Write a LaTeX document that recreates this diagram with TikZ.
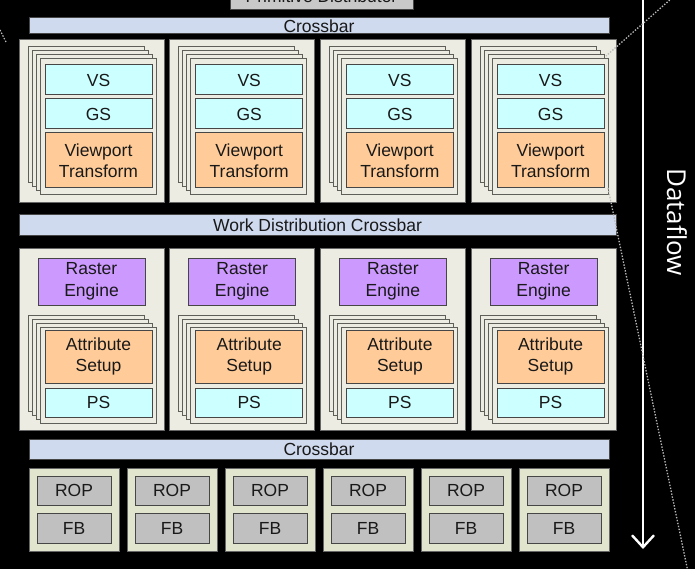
\documentclass[tikz,border=0pt]{standalone}
\usepackage{fontspec}
\setmainfont{Liberation Sans}
\newfontfamily\flowfont{Open Sans}
\usepackage{tikz}
\usetikzlibrary{calc}
\usetikzlibrary{arrows.meta}
\tikzset{>=stealth}

\definecolor{barblue}{RGB}{207,218,238}
\definecolor{gpcfill}{RGB}{236,236,226}
\definecolor{ropfill}{RGB}{225,229,205}
\definecolor{shadercyan}{RGB}{204,255,255}
\definecolor{fixpeach}{RGB}{255,204,153}
\definecolor{rasterpurple}{RGB}{204,153,255}
\definecolor{memgray}{RGB}{192,192,192}
\definecolor{distgray}{RGB}{200,200,200}
\definecolor{boxedge}{RGB}{70,70,70}
\definecolor{frameedge}{RGB}{95,95,90}
\definecolor{inktext}{RGB}{25,25,25}
\definecolor{zoomdots}{RGB}{185,185,185}

\tikzset{
	box/.style={draw=boxedge, line width=1pt, inner sep=0pt, text=inktext, align=center,
		font=\fontsize{17.5}{21.5}\selectfont},
	xbar/.style={box, fill=barblue},
	gpc/.style={box, fill=gpcfill, draw=black!60, minimum width=145pt},
	stackframe/.style={box, fill=gpcfill, draw=frameedge, minimum width=116pt},
	shader/.style={box, fill=shadercyan, minimum width=107pt, minimum height=30pt},
	fixedunit/.style={box, fill=fixpeach, minimum width=107pt},
	raster/.style={box, fill=rasterpurple, minimum width=107pt, minimum height=47pt},
	ropbox/.style={box, fill=ropfill, draw=black!60, minimum width=90pt, minimum height=83pt},
	memunit/.style={box, fill=memgray, minimum width=74pt, minimum height=29pt},
	zoomline/.style={draw=zoomdots, line width=1.3pt, dash pattern=on 1.4pt off 1.6pt}
}

\begin{document}
\begin{tikzpicture}[x=1pt,y=-1pt]
				\useasboundingbox (0,0) rectangle (695,569);
				\fill[black] (0,0) rectangle (695,569);
				\clip (0,0) rectangle (695,569);

				% top of the pipeline
				\draw (321.5,-4) node (dist) [box, fill=distgray, minimum width=183pt, minimum height=28pt] {Primitive Distributor};
				\draw (319,26) node (xbar1) [xbar, minimum width=580pt, minimum height=16pt] {Crossbar};

				% geometry stage
				\foreach \i [evaluate=\i as \xl using 19+150.7*(\i-1)] in {1,...,4} {
					\draw (\xl+72.5,121.5) node (geo\i) [gpc, minimum height=163pt] {};
					\foreach \k in {0,...,3}
						\draw (\xl+67+4*\k,115+4*\k) node (gfr\i\k) [stackframe, minimum height=136pt] {};
					\draw (\xl+79.5,80) node (vs\i) [shader] {VS};
					\draw (\xl+79.5,114) node (gs\i) [shader] {GS};
					\draw (\xl+79.5,160.5) node (vp\i) [fixedunit, minimum height=55pt] {Viewport\\Transform};
				}

				\draw (317.5,225) node (xbar2) [xbar, minimum width=597pt, minimum height=20pt] {Work Distribution Crossbar};

				% raster stage
				\foreach \i [evaluate=\i as \xl using 19+150.7*(\i-1)] in {1,...,4} {
					\draw (\xl+72.5,339) node (ras\i) [gpc, minimum height=182pt] {};
					\draw (\xl+72.5,281.5) node (re\i) [raster] {Raster\\Engine};
					\foreach \k in {0,...,3}
						\draw (\xl+67+4*\k,363+4*\k) node (rfr\i\k) [stackframe, minimum height=96pt] {};
					\draw (\xl+79.5,356.5) node (as\i) [fixedunit, minimum height=53pt] {Attribute\\Setup};
					\draw (\xl+79.5,402.5) node (ps\i) [shader, minimum height=29pt] {PS};
				}

				\draw (319,449) node (xbar3) [xbar, minimum width=580pt, minimum height=20pt] {Crossbar};

				% memory partitions
				\foreach \i [evaluate=\i as \xl using 29+98*(\i-1)] in {1,...,6} {
					\draw (\xl+45,509.5) node (part\i) [ropbox] {};
					\draw (\xl+45,490.5) node (rop\i) [memunit] {ROP};
					\draw (\xl+45,528) node (fb\i) [memunit, minimum height=30pt] {FB};
				}

				% dataflow arrow
				\coordinate (flowtop) at (643,-2);
				\coordinate (flowend) at (643,549);
				\draw [white, line width=2.4pt, -{Straight Barb[length=12pt, width=22pt, line width=2.4pt]}] (flowtop) -- (flowend);
				\draw (677,222) node (flow) [rotate=-90, text=white, font=\flowfont\fontsize{26}{30}\selectfont] {Dataflow};

				% zoom callout lines
				\coordinate (za) at (672,-2);
				\coordinate (zb) at (606,56);
				\coordinate (zc) at (608,188);
				\coordinate (zd) at (688,572);
				\coordinate (ze) at (0,30);
				\coordinate (zf) at (6,42);
				\draw [zoomline] (za) -- (zb);
				\draw [zoomline] (zc) -- (zd);
				\draw [zoomline] (ze) -- (zf);
			\end{tikzpicture}
\end{document}
